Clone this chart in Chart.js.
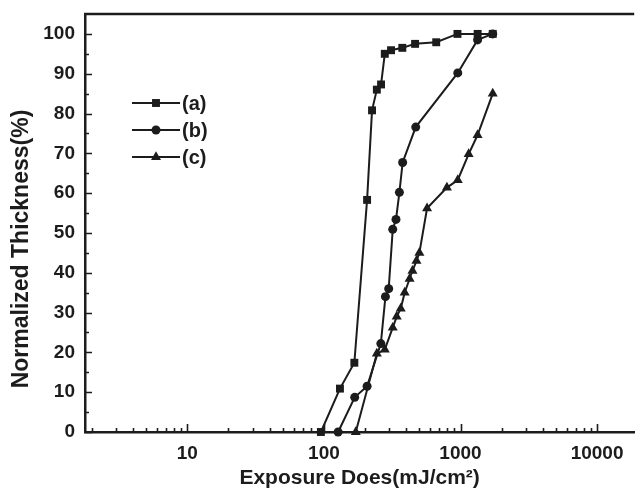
<!DOCTYPE html>
<html>
<head>
<meta charset="utf-8">
<script src="https://cdn.jsdelivr.net/npm/chart.js@4.4.0/dist/chart.umd.min.js"></script>
<style>body{margin:0;background:#fff}</style>
</head>
<body>
<canvas id="c" width="640" height="495"></canvas>
<script>
// dados
const doseA  = [95, 131, 167, 207, 225, 244, 262, 279, 310, 375, 465, 664, 950, 1335, 1722];
const thickA = [0, 10.9, 17.4, 58.3, 80.8, 86, 87.3, 95, 95.9, 96.5, 97.5, 97.9, 100, 100, 100];
const doseB  = [127, 168, 207, 261, 282, 298, 319, 337, 357, 377, 470, 955, 1334, 1722];
const thickB = [0, 8.7, 11.5, 22.2, 34, 36, 50.9, 53.4, 60.2, 67.7, 76.6, 90.2, 98.5, 100];
const doseC  = [171, 244, 279, 319, 341, 365, 390, 424, 445, 476, 500, 569, 795, 955, 1147, 1334, 1722];
const thickC = [0, 19.7, 20.7, 26.2, 29, 31, 35, 38.5, 40.5, 43, 45, 56.2, 61.4, 63.3, 69.8, 74.6, 85];
const seriesNames = ["(a)", "(b)", "(c)"];
const xTicks = [10, 100, 1000, 10000];
const yTicks = [0, 10, 20, 30, 40, 50, 60, 70, 80, 90, 100];

const INK = "#1c1c1c";
const FONT = "'Liberation Sans', Arial, sans-serif";

function pts(xs, ys){ return xs.map((x,i)=>({x:x, y:ys[i]})); }

function ds(label, xs, ys, style, r){
    return {label:label, data:pts(xs,ys), borderColor:INK, backgroundColor:INK, borderWidth:2,
        pointStyle:style, pointRadius:r, pointHoverRadius:r, pointBorderWidth:0, tension:0, clip:false};
}

// ticks para dentro, borda de cima, titulo do eixo y e legenda
const framePlugin = {
    id:"frame",
    afterDatasetsDraw(chart){
        const ctx=chart.ctx, a=chart.chartArea, xs=chart.scales.x, ys=chart.scales.y;
        ctx.save();
        ctx.strokeStyle=INK; ctx.lineWidth=1.6;
        ctx.beginPath();
        for(let d=1; d<=10000; d*=10){
            for(let m=1; m<10; m++){
                const v=m*d;
                if(v<xs.min || v>xs.max) continue;
                const px=Math.round(xs.getPixelForValue(v))+0.5;
                const len = m===1 ? 8 : 4;
                ctx.moveTo(px, a.bottom); ctx.lineTo(px, a.bottom-len);
            }
        }
        for(let v=0; v<=100; v+=5){
            const py=Math.round(ys.getPixelForValue(v))+0.5;
            const len = v%10===0 ? 7 : 4;
            ctx.moveTo(a.left, py); ctx.lineTo(a.left+len, py);
        }
        ctx.stroke();
        // borda superior
        ctx.lineWidth=2.5;
        ctx.beginPath(); ctx.moveTo(a.left-1, a.top); ctx.lineTo(a.right, a.top); ctx.stroke();

        // titulo do eixo y (um pouco abaixo do centro, como no original)
        ctx.fillStyle=INK;
        ctx.save();
        ctx.translate(22, 249); ctx.rotate(-Math.PI/2);
        ctx.font="bold 23px "+FONT; ctx.textAlign="center"; ctx.textBaseline="middle";
        ctx.fillText("Normalized Thickness(%)", 0, 0);
        ctx.restore();

        // legenda
        chart.data.datasets.forEach((d,i)=>{
            const y=103+27*i;
            ctx.lineWidth=2; ctx.strokeStyle=INK; ctx.fillStyle=INK;
            ctx.beginPath(); ctx.moveTo(132,y); ctx.lineTo(180,y); ctx.stroke();
            Chart.helpers.drawPoint(ctx, {pointStyle:d.pointStyle, radius:d.pointRadius, borderWidth:0, rotation:0}, 156, y);
            ctx.font="bold 20px "+FONT; ctx.textAlign="left"; ctx.textBaseline="middle";
            ctx.fillText(seriesNames[i], 182, y+1);
        });
        ctx.restore();
    }
};

new Chart(document.getElementById("c"), {
    type:"line",
    data:{ datasets:[
        ds(seriesNames[0], doseA, thickA, "rect", 5.6),
        ds(seriesNames[1], doseB, thickB, "circle", 4.5),
        ds(seriesNames[2], doseC, thickC, "triangle", 5.8)
    ]},
    options:{
        responsive:false, animation:false,
        layout:{ padding:{top:14, right:0, left:0, bottom:0} },
        plugins:{ legend:{display:false}, tooltip:{enabled:false} },
        scales:{
            x:{
                type:"logarithmic", min:1.78, max:18700,
                grid:{display:false}, border:{display:true, color:INK, width:2.5},
                afterBuildTicks: s => { s.ticks = xTicks.map(v=>({value:v})); },
                afterFit: s => { s.height = 63; },
                ticks:{ color:INK, font:{family:FONT, size:19, weight:"bold"}, padding:2, maxRotation:0, autoSkip:false,
                    callback: v => String(v) },
                title:{ display:true, text:"Exposure Does(mJ/cm²)", color:INK, font:{family:FONT, size:21, weight:"bold"}, padding:{top:1} }
            },
            y:{
                type:"linear", min:0, max:105,
                grid:{display:false}, border:{display:true, color:INK, width:2.5},
                afterBuildTicks: s => { s.ticks = yTicks.map(v=>({value:v})); },
                afterFit: s => { s.width = 85; },
                ticks:{ color:INK, font:{family:FONT, size:19, weight:"bold"}, padding:2 },
                title:{ display:false }
            }
        }
    },
    plugins:[framePlugin]
});
</script>
</body>
</html>
